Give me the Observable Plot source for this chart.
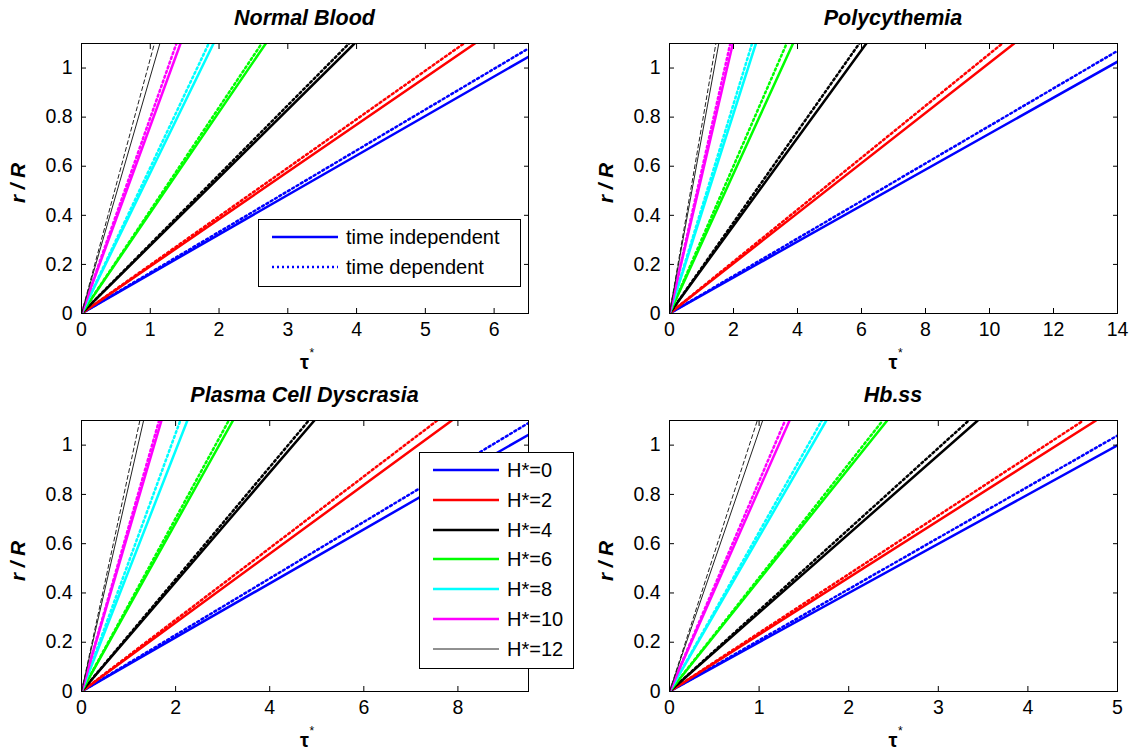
<!DOCTYPE html>
<html>
<head>
<meta charset="utf-8">
<script src="https://cdn.jsdelivr.net/npm/d3@7"></script>
<script src="https://cdn.jsdelivr.net/npm/@observablehq/plot@0.6"></script>
<style>
  body { margin: 0; background: #fff; }
  #fig { position: relative; width: 1132px; height: 754px; background: #fff; overflow: hidden;
         font-family: "Liberation Sans", Arial, Helvetica, sans-serif; color: #000; }
  .panel { position: absolute; }
  .title { position: absolute; font-size: 21.5px; font-weight: bold; font-style: italic; line-height: 22px;
           white-space: nowrap; transform: translateX(-50%); }
  .ylab { position: absolute; font-size: 20.5px; font-weight: bold; font-style: italic; line-height: 20px;
          white-space: nowrap; transform: translate(-50%, -50%) rotate(-90deg); }
  .xlab { position: absolute; font-size: 20px; font-weight: bold; line-height: 20px; white-space: nowrap;
          transform: translateX(-50%); }
  .star { position: absolute; font-size: 12px; line-height: 12px; white-space: nowrap; }
  .legend { position: absolute; background: #fff; border: 1px solid #000; box-sizing: border-box; }
  .lrow { position: absolute; left: 0; height: 0; }
  .lrow svg { position: absolute; left: 13px; top: -5px; }
  .lrow span { position: absolute; left: 87px; top: -11px; font-size: 20px; line-height: 22px; white-space: nowrap; }
</style>
</head>
<body>
<div id="fig"></div>
<script>
// ---------------- data ----------------
const hLabels = ["H*=0", "H*=2", "H*=4", "H*=6", "H*=8", "H*=10", "H*=12"];
const hColors = ["#0000ff", "#ff0000", "#000000", "#00ff00", "#00ffff", "#ff00ff", "#222222"];
const kindLabels = ["time independent", "time dependent"];
const yTicks = [0, 0.2, 0.4, 0.6, 0.8, 1];
const yTickLabels = ["0", "0.2", "0.4", "0.6", "0.8", "1"];
const xLabel = "τ";
const xLabelSup = "*";
const yLabel = "r / R";
const origin = [0, 0];

const panelTitles = ["Normal Blood", "Polycythemia", "Plasma Cell Dyscrasia", "Hb.ss"];

// Normal Blood
const normalXMax = 6.5;
const normalXTicks = [0, 1, 2, 3, 4, 5, 6];
const normalSolidEnd  = [[6.5, 1.046], [5.72, 1.1], [3.97, 1.1], [2.68, 1.1], [1.92, 1.1], [1.44, 1.1], [1.14, 1.1]];
const normalDottedEnd = [[6.5, 1.08],  [5.56, 1.1], [3.89, 1.1], [2.62, 1.1], [1.85, 1.1], [1.38, 1.1], [1.06, 1.1]];

// Polycythemia
const polyXMax = 14;
const polyXTicks = [0, 2, 4, 6, 8, 10, 12, 14];
const polySolidEnd  = [[14, 1.026], [10.77, 1.1], [6.15, 1.1], [3.86, 1.1], [2.70, 1.1], [1.98, 1.1], [1.54, 1.1]];
const polyDottedEnd = [[14, 1.07],  [10.40, 1.1], [5.93, 1.1], [3.66, 1.1], [2.58, 1.1], [1.90, 1.1], [1.45, 1.1]];

// Plasma Cell Dyscrasia
const plasmaXMax = 9.5;
const plasmaXTicks = [0, 2, 4, 6, 8];
const plasmaSolidEnd  = [[9.5, 1.042], [7.87, 1.1], [4.95, 1.1], [3.22, 1.1], [2.25, 1.1], [1.70, 1.1], [1.32, 1.1]];
const plasmaDottedEnd = [[9.5, 1.09],  [7.56, 1.1], [4.83, 1.1], [3.13, 1.1], [2.10, 1.1], [1.65, 1.1], [1.24, 1.1]];

// Hb.ss
const hbssXMax = 5;
const hbssXTicks = [0, 1, 2, 3, 4, 5];
const hbssSolidEnd  = [[5, 0.999], [4.76, 1.1], [3.44, 1.1], [2.43, 1.1], [1.75, 1.1], [1.34, 1.1], [1.04, 1.1]];
const hbssDottedEnd = [[5, 1.039], [4.62, 1.1], [3.34, 1.1], [2.38, 1.1], [1.70, 1.1], [1.29, 1.1], [0.98, 1.1]];

// ---------------- layout ----------------
const FONT = '"Liberation Sans", Arial, Helvetica, sans-serif';
const fig = document.getElementById("fig");

const panels = [
  {title: panelTitles[0], xMax: normalXMax, xTicks: normalXTicks, solid: normalSolidEnd, dotted: normalDottedEnd, col: 0, row: 0},
  {title: panelTitles[1], xMax: polyXMax,   xTicks: polyXTicks,   solid: polySolidEnd,   dotted: polyDottedEnd,   col: 1, row: 0},
  {title: panelTitles[2], xMax: plasmaXMax, xTicks: plasmaXTicks, solid: plasmaSolidEnd, dotted: plasmaDottedEnd, col: 0, row: 1},
  {title: panelTitles[3], xMax: hbssXMax,   xTicks: hbssXTicks,   solid: hbssSolidEnd,   dotted: hbssDottedEnd,   col: 1, row: 1}
];

function rowsFor(ends, kind) {
  return ends.flatMap((e, i) => [
    {h: i, kind, x: origin[0], y: origin[1]},
    {h: i, kind, x: e[0], y: e[1]}
  ]);
}

const W = 566, H = 377;
panels.forEach(p => {
  const svgLeft = p.col * W, svgTop = p.row * H;
  const plotLeft = p.col === 0 ? 81 : 669;
  const plotRight = p.col === 0 ? 528 : 1117;
  const plotTop = p.row === 0 ? 43 : 420;
  const plotBottom = p.row === 0 ? 313 : 691;

  const rows = rowsFor(p.solid, "solid").concat(rowsFor(p.dotted, "dotted"));
  const marks = [];
  hLabels.forEach((_, i) => {
    const thin = i === 6;
    marks.push(Plot.line(rows.filter(r => r.h === i && r.kind === "solid"),
      {x: "x", y: "y", stroke: hColors[i], strokeWidth: thin ? 1 : 2.5, clip: true}));
    marks.push(Plot.line(rows.filter(r => r.h === i && r.kind === "dotted"),
      {x: "x", y: "y", stroke: hColors[i], strokeWidth: thin ? 1 : 2.5,
       strokeDasharray: thin ? "4,3" : "2,3", clip: true}));
  });
  marks.push(Plot.frame({stroke: "#000", strokeWidth: 1}));
  // inward tick marks on all four sides
  marks.push(Plot.axisX({ticks: p.xTicks, anchor: "bottom", tickSize: -5, tickFormat: () => "", label: null}));
  marks.push(Plot.axisX({ticks: p.xTicks, anchor: "top", tickSize: -5, tickFormat: () => "", label: null}));
  marks.push(Plot.axisY({ticks: yTicks, anchor: "left", tickSize: -5, tickFormat: () => "", label: null}));
  marks.push(Plot.axisY({ticks: yTicks, anchor: "right", tickSize: -5, tickFormat: () => "", label: null}));
  // tick labels
  marks.push(Plot.axisX({ticks: p.xTicks, anchor: "bottom", tickSize: 0, tickPadding: 9, label: null,
                         tickFormat: d => String(d)}));
  marks.push(Plot.axisY({ticks: yTicks, anchor: "left", tickSize: 0, tickPadding: 9, label: null,
                         tickFormat: d => yTickLabels[yTicks.indexOf(d)]}));

  const chart = Plot.plot({
    width: W, height: H,
    marginLeft: plotLeft - svgLeft,
    marginRight: svgLeft + W - plotRight,
    marginTop: plotTop - svgTop,
    marginBottom: svgTop + H - plotBottom,
    x: {domain: [0, p.xMax]},
    y: {domain: [0, 1.1]},
    style: {fontFamily: FONT, fontSize: "19.5px", color: "#000", background: "transparent", overflow: "visible"},
    marks
  });
  const holder = document.createElement("div");
  holder.className = "panel";
  holder.style.left = svgLeft + "px";
  holder.style.top = svgTop + "px";
  holder.appendChild(chart);
  fig.appendChild(holder);

  const cx = (plotLeft + plotRight) / 2;
  const t = document.createElement("div");
  t.className = "title";
  t.textContent = p.title;
  t.style.left = cx + "px";
  t.style.top = (plotTop - 36) + "px";
  fig.appendChild(t);

  const yl = document.createElement("div");
  yl.className = "ylab";
  yl.textContent = yLabel;
  yl.style.left = (plotLeft - 63) + "px";
  yl.style.top = ((plotTop + plotBottom) / 2 + 5) + "px";
  fig.appendChild(yl);

  const xl = document.createElement("div");
  xl.className = "xlab";
  xl.textContent = xLabel;
  xl.style.left = cx + "px";
  xl.style.top = (plotBottom + 39) + "px";
  fig.appendChild(xl);

  const st = document.createElement("div");
  st.className = "star";
  st.textContent = xLabelSup;
  st.style.left = (cx + 5) + "px";
  st.style.top = (plotBottom + 34) + "px";
  fig.appendChild(st);
});

// ---------------- legends ----------------
function sample(color, width, dash) {
  return `<svg width="66" height="10"><line x1="0" x2="66" y1="5" y2="5" stroke="${color}" stroke-width="${width}"${dash ? ` stroke-dasharray="${dash}"` : ""}/></svg>`;
}
// time legend (top-left panel)
const lg1 = document.createElement("div");
lg1.className = "legend";
Object.assign(lg1.style, {left: "258px", top: "219px", width: "263px", height: "68px"});
kindLabels.forEach((k, i) => {
  const r = document.createElement("div");
  r.className = "lrow";
  r.style.top = (17 + i * 30) + "px";
  r.innerHTML = sample(hColors[0], 2.5, i === 1 ? "2,3" : null) + `<span>${k}</span>`;
  lg1.appendChild(r);
});
fig.appendChild(lg1);

// H* legend (bottom-left panel)
const lg2 = document.createElement("div");
lg2.className = "legend";
Object.assign(lg2.style, {left: "419px", top: "452px", width: "155px", height: "217px"});
hLabels.forEach((h, i) => {
  const r = document.createElement("div");
  r.className = "lrow";
  r.style.top = (17 + i * 29.8) + "px";
  r.innerHTML = sample(hColors[i], i === 6 ? 1 : 2.5, null) + `<span>${h}</span>`;
  lg2.appendChild(r);
});
fig.appendChild(lg2);
</script>
</body>
</html>
